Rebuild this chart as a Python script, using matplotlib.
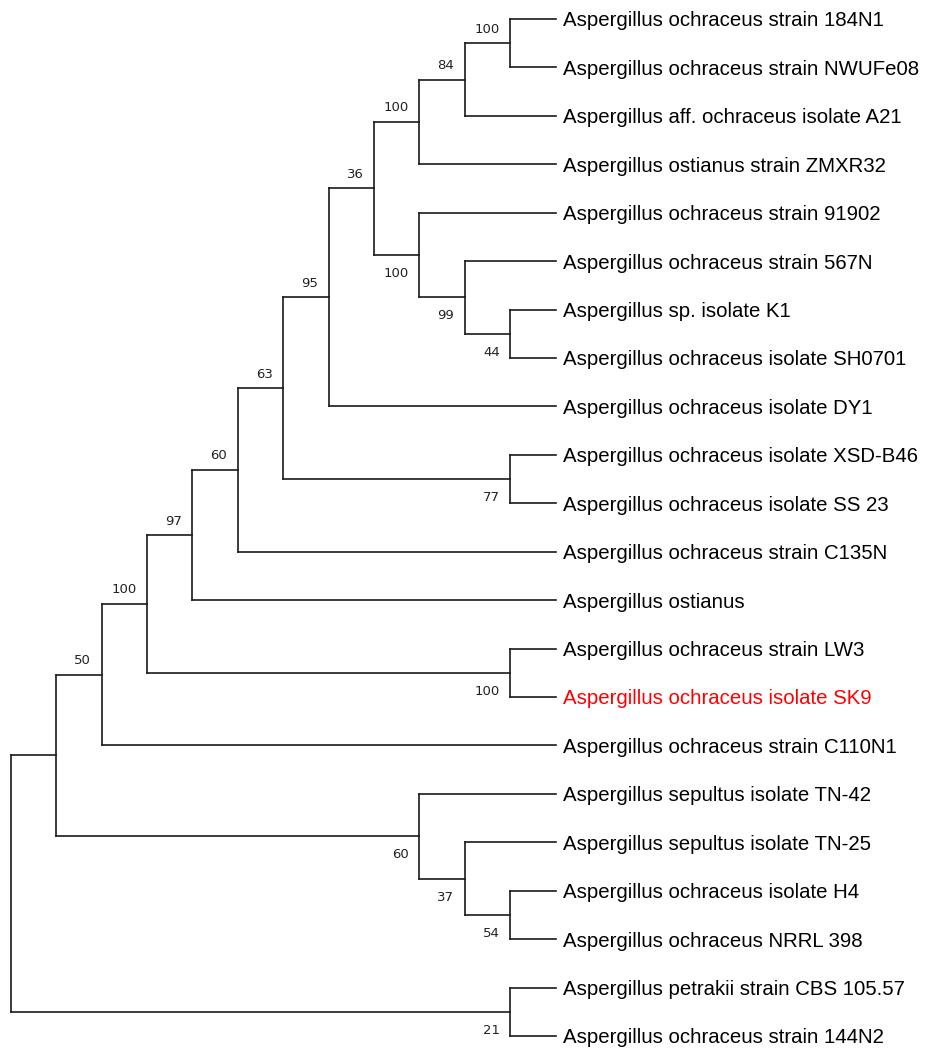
import matplotlib.pyplot as plt

# Leaf labels, top to bottom
leaves = [
    "Aspergillus ochraceus strain 184N1",
    "Aspergillus ochraceus strain NWUFe08",
    "Aspergillus aff. ochraceus isolate A21",
    "Aspergillus ostianus strain ZMXR32",
    "Aspergillus ochraceus strain 91902",
    "Aspergillus ochraceus strain 567N",
    "Aspergillus sp. isolate K1",
    "Aspergillus ochraceus isolate SH0701",
    "Aspergillus ochraceus isolate DY1",
    "Aspergillus ochraceus isolate XSD-B46",
    "Aspergillus ochraceus isolate SS 23",
    "Aspergillus ochraceus strain C135N",
    "Aspergillus ostianus",
    "Aspergillus ochraceus strain LW3",
    "Aspergillus ochraceus isolate SK9",
    "Aspergillus ochraceus strain C110N1",
    "Aspergillus sepultus isolate TN-42",
    "Aspergillus sepultus isolate TN-25",
    "Aspergillus ochraceus isolate H4",
    "Aspergillus ochraceus NRRL 398",
    "Aspergillus petrakii strain CBS 105.57",
    "Aspergillus ochraceus strain 144N2",
]
highlight = "Aspergillus ochraceus isolate SK9"

# Internal nodes: ints are leaf indices, strings are other nodes
node_names = ["A", "B", "C", "F", "E", "D", "G", "H", "I", "J", "K",
              "L", "M", "N", "O", "P", "Q", "R", "S", "T", "root"]
node_children = [(0, 1), ("A", 2), ("B", 3), (6, 7), (5, "F"), (4, "E"),
                 ("C", "D"), ("G", 8), (9, 10), ("H", "I"), ("J", 11),
                 ("K", 12), (13, 14), ("L", "M"), ("N", 15), (18, 19),
                 (17, "P"), (16, "Q"), ("O", "R"), (20, 21), ("S", "T")]
bootstrap = [100, 84, 100, 44, 99, 100, 36, 95, 77, 63, 60,
             97, 100, 100, 50, 54, 37, 60, None, 21, None]
label_below = [False, False, False, True, True, True, False, False, True, False, False,
               False, True, False, False, True, True, True, False, True, False]

children = dict(zip(node_names, node_children))

# layout: leaves at depth 12, node x = 12 - height, y = middle of children
pos = {}
height = {}


def layout(n):
    if isinstance(n, int):
        pos[n] = (None, n)
        height[n] = 0
        return
    for c in children[n]:
        layout(c)
    height[n] = 1 + max(height[c] for c in children[n])
    ys = [pos[c][1] for c in children[n]]
    pos[n] = (None, (ys[0] + ys[-1]) / 2)


layout("root")
tip = max(height.values())
for k in pos:
    pos[k] = (tip - height[k], pos[k][1])

fig = plt.figure(figsize=(9.33, 10.5), dpi=100)
ax = fig.add_axes([0, 0, 1, 1])
lc = "#1a1a1a"
lw = 1.2

for n in node_names:
    px, py = pos[n]
    ys = [pos[c][1] for c in children[n]]
    ax.plot([px, px], [min(ys), max(ys)], color=lc, lw=lw, solid_capstyle="projecting")
    for c in children[n]:
        cx, cy = pos[c]
        ax.plot([px, cx], [cy, cy], color=lc, lw=lw, solid_capstyle="projecting")

for i, name in enumerate(leaves):
    ax.annotate(name, (tip, i), xytext=(5, 0), textcoords="offset points",
                ha="left", va="center_baseline", fontsize=14.7,
                family="Liberation Sans",
                color="#ff0000" if name == highlight else "black")

for n, b, below in zip(node_names, bootstrap, label_below):
    if b is None:
        continue
    px, py = pos[n]
    ax.annotate(str(b), (px, py), xytext=(-7.6, -13.3 if below else 10.1),
                textcoords="offset points", ha="right", va="center",
                fontsize=9.5, family="DejaVu Sans", color="#222222")

ax.set_xlim(-0.236, 20.31)
ax.set_ylim(21.29, -0.392)
ax.axis("off")
fig.savefig("out.png", dpi=100)
